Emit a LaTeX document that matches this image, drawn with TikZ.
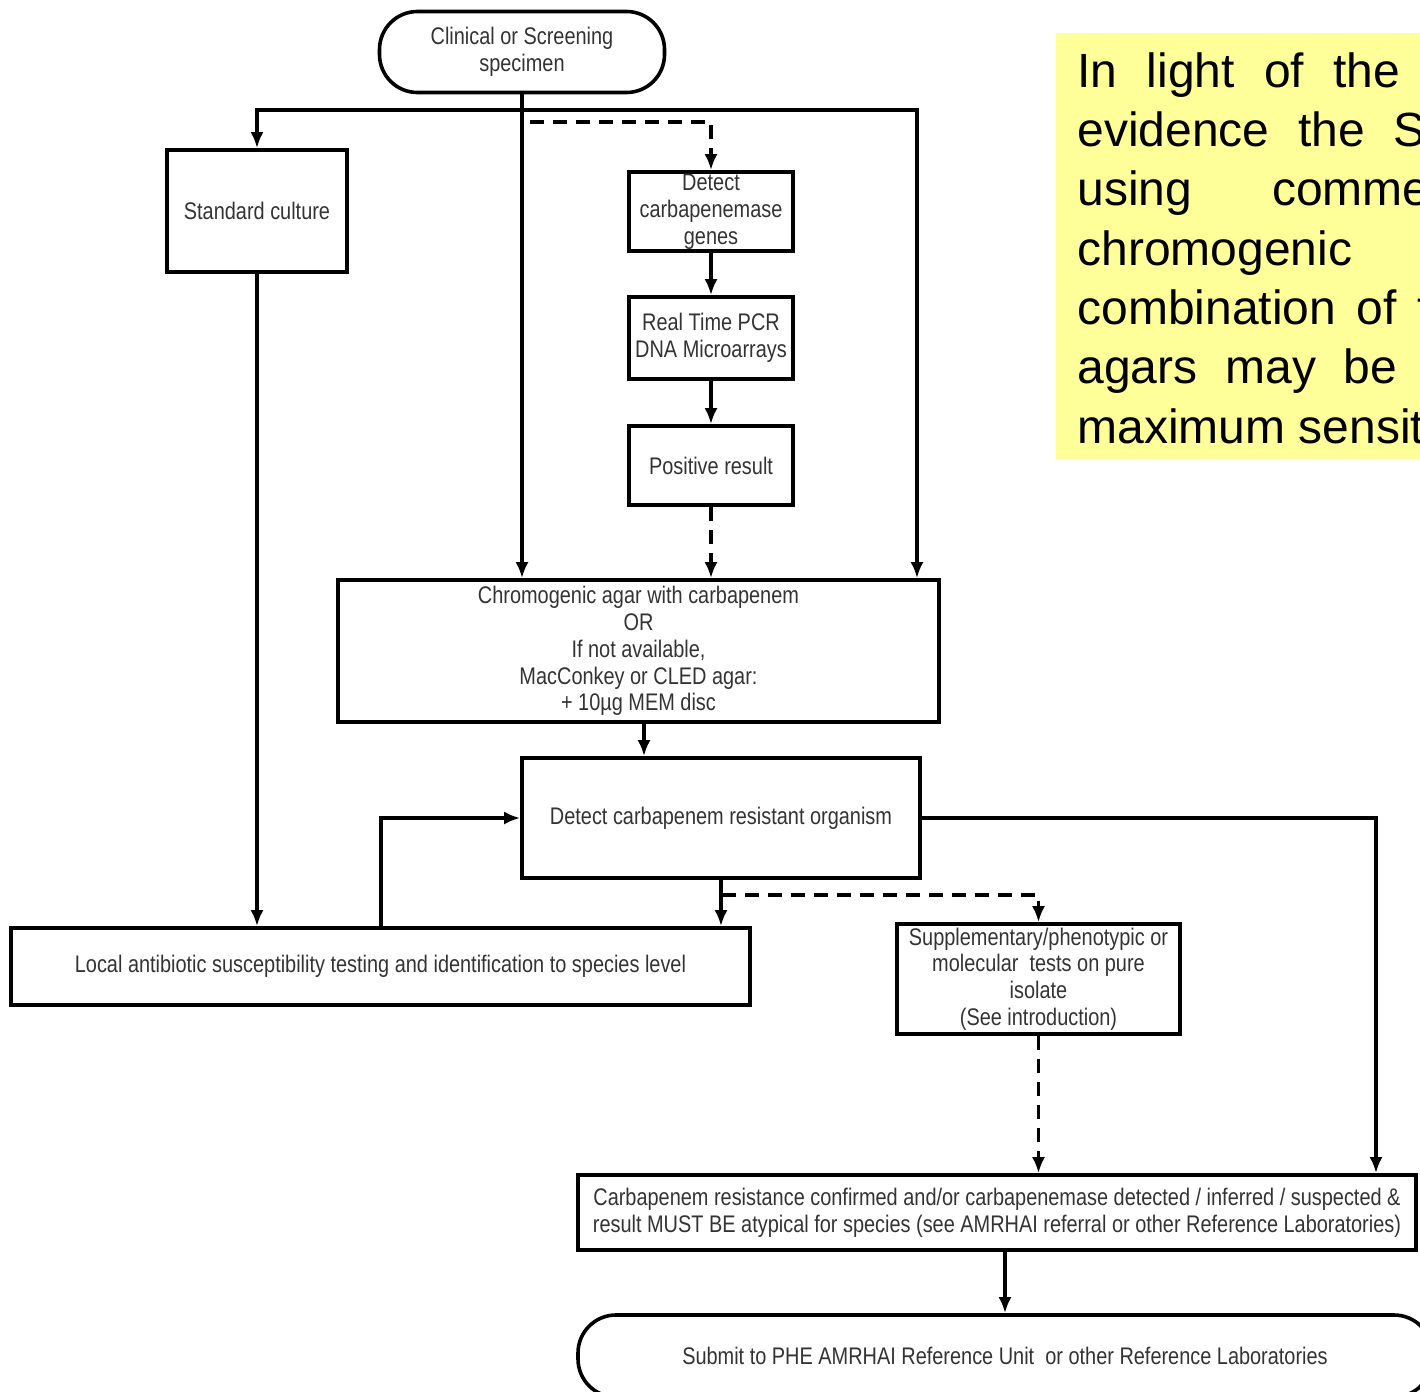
\documentclass[tikz,border=0pt]{standalone}
\usepackage{fontspec}
\setmainfont{Liberation Sans}
\newfontfamily\narrowsf[FakeStretch=0.83]{Liberation Sans}
\usetikzlibrary{arrows.meta}
\definecolor{notebg}{HTML}{FFFF99}

\begin{document}
\begin{tikzpicture}[x=0.5pt, y=-0.5pt,
	every node/.style={font={\narrowsf\fontsize{12}{13.4}\selectfont}, text=black!80, align=center},
	box/.style={draw=black, line width=1.8pt, inner sep=0pt},
	term/.style={box, rounded corners=19pt},
	flow/.style={line width=1.7pt, -{Latex[length=8pt, width=6.5pt]}},
	flowdash/.style={flow, dash pattern=on 7pt off 4.5pt},
	notetext/.style={font={\fontsize{24}{29.7}\selectfont}, text=black, anchor=base west, inner sep=0pt, align=left}]
	\useasboundingbox (0,0) rectangle (1420,1392);
	\node[term, minimum width=142.5pt, minimum height=40.5pt] (spec) at (522,52) {Clinical or Screening\\specimen};
	\node[box, minimum width=90pt, minimum height=61pt] (std) at (257,211) {Standard culture};
	\node[box, minimum width=82pt, minimum height=39.5pt] (genes) at (711,211.5) {Detect\\carbapenemase\\genes};
	\node[box, minimum width=82pt, minimum height=41pt] (pcr) at (711,338) {Real Time PCR\\DNA Microarrays};
	\node[box, minimum width=82pt, minimum height=39.5pt] (pos) at (711,465.5) {Positive result};
	\node[box, minimum width=300.5pt, minimum height=71pt] (agar) at (638.5,651) {Chromogenic agar with carbapenem\\OR\\If not available,\\MacConkey or CLED agar:\\+ 10µg MEM disc};
	\node[box, minimum width=199pt, minimum height=60pt] (cro) at (721,818) {Detect carbapenem resistant organism};
	\node[box, minimum width=369.5pt, minimum height=38.5pt] (ast) at (380.5,966.5) {Local antibiotic susceptibility testing and identification to species level};
	\node[box, minimum width=141.5pt, minimum height=55pt] (supp) at (1038.5,979) {Supplementary/phenotypic or\\molecular\ \ tests on pure\\isolate\\(See introduction)};
	\node[box, minimum width=419pt, minimum height=37.5pt] (conf) at (997,1212.5) {Carbapenem resistance confirmed and/or carbapenemase detected / inferred / suspected \&\\result MUST BE atypical for species (see AMRHAI referral or other Reference Laboratories)};
	\node[term, minimum width=427pt, minimum height=41pt] (sub) at (1005,1356) {Submit to PHE AMRHAI Reference Unit\ \ or other Reference Laboratories};
	\node[fill=notebg, anchor=north west, inner sep=0pt, minimum width=200pt, minimum height=213pt] (note) at (1056,33) {};
	\node[notetext] (note1) at (1077,87) {\makebox[161.5pt][s]{In light of the}};
	\node[notetext] (note2) at (1077,146.3) {\makebox[174pt][s]{evidence the S}};
	\node[notetext] (note3) at (1077,205.7) {\makebox[176pt][s]{using comme}};
	\node[notetext] (note4) at (1077,265) {chromogenic};
	\node[notetext] (note5) at (1077,324.3) {\makebox[176.5pt][s]{combination of t}};
	\node[notetext] (note6) at (1077,383.7) {\makebox[160pt][s]{agars may be}};
	\node[notetext] (note7) at (1077,443) {maximum sensit};
	\coordinate (top) at (522,110);
	\coordinate (rjoin) at (917,110);
	\coordinate (dstart) at (530,122);
	\coordinate (mid) at (644,722);
	\coordinate (loop) at (381,818);
	\coordinate (dsplit) at (722,895);
	\coordinate (rbend) at (1376,818);
	\draw[flow] (spec.south) -- (spec.south |- agar.north);
	\draw[flow] (top) -| (std.north);
	\draw[flow] (top) -- (rjoin) -- (rjoin |- agar.north);
	\draw[flowdash] (dstart) -| (genes.north);
	\draw[flow] (genes) -- (pcr);
	\draw[flow] (pcr) -- (pos);
	\draw[flowdash] (pos) -- (pos.south |- agar.north);
	\draw[flow] (mid) -- (mid |- cro.north);
	\draw[flow] (std) -- (std.south |- ast.north);
	\draw[flow] (ast.north -| loop) -- (loop) -- (cro.west);
	\draw[flow] (cro.south) -- (cro.south |- ast.north);
	\draw[flowdash] (dsplit) -| (supp.north);
	\draw[flowdash] (supp) -- (supp.south |- conf.north);
	\draw[flow] (cro.east) -- (rbend) -- (rbend |- conf.north);
	\draw[flow] (conf.south -| sub.north) -- (sub.north);
\end{tikzpicture}
\end{document}
